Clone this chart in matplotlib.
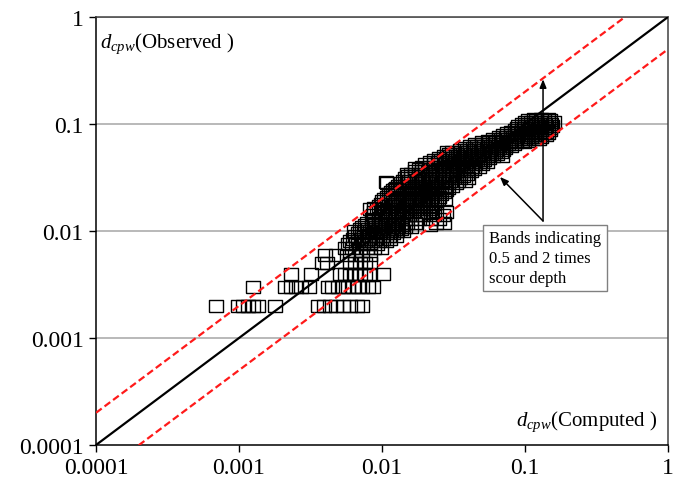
import matplotlib
matplotlib.use("Agg")
import matplotlib.pyplot as plt
import numpy as np

plt.rcParams['font.family'] = ['Liberation Serif', 'DejaVu Serif']
plt.rcParams['mathtext.fontset'] = 'custom'
plt.rcParams['mathtext.rm'] = 'Liberation Serif'
plt.rcParams['mathtext.it'] = 'Liberation Serif:italic'

# Observed values grouped by row, with the computed values in each row
obs_rows = [0.002, 0.003, 0.004, 0.005, 0.006, 0.007, 0.008, 0.009, 0.010,
            0.011, 0.012, 0.013, 0.015, 0.017, 0.019, 0.021, 0.023, 0.025,
            0.028, 0.031, 0.034, 0.038, 0.042, 0.046, 0.050, 0.055, 0.060,
            0.065, 0.070, 0.076, 0.082, 0.088, 0.095, 0.105, 0.112]
comp_rows = [
    [0.00069, 0.00098, 0.00107, 0.00115, 0.00125, 0.00135, 0.00179, 0.00356,
     0.0039, 0.0043, 0.0048, 0.0053, 0.0060, 0.0067, 0.0072],
    [0.00125, 0.0021, 0.0023, 0.0025, 0.0027, 0.0031, 0.0042, 0.0045, 0.0049,
     0.0053, 0.0058, 0.0063, 0.0068, 0.0073, 0.0080, 0.0087],
    [0.0023, 0.0032, 0.0051, 0.0055, 0.0060, 0.0065, 0.0070, 0.0076, 0.0082,
     0.0101],
    [0.0038, 0.0041, 0.0060, 0.0065, 0.0070, 0.0076, 0.0082],
    [0.0040, 0.0048, 0.0057, 0.0065, 0.0072, 0.0082],
    [0.0055, 0.0062, 0.0070, 0.0078, 0.0088, 0.0098],
    [0.0060, 0.0068, 0.0076, 0.0085, 0.0095, 0.0107],
    [0.0065, 0.0072, 0.0080, 0.0090, 0.0100, 0.0112, 0.0125],
    [0.0064, 0.0075, 0.0083, 0.0092, 0.0102, 0.0115, 0.0128, 0.0140],
    [0.0072, 0.0085, 0.0095, 0.0105, 0.0118, 0.0130, 0.0145, 0.0160],
    [0.0078, 0.0090, 0.0100, 0.0110, 0.0122, 0.0135, 0.0150, 0.0170,
     0.0240, 0.0270],
    [0.0085, 0.0095, 0.0105, 0.0115, 0.0130, 0.0145, 0.0160, 0.0180,
     0.0220, 0.0250],
    [0.0088, 0.0100, 0.0110, 0.0120, 0.0135, 0.0150, 0.0165, 0.0185,
     0.0210, 0.0240, 0.0280],
    [0.0095, 0.0105, 0.0118, 0.0130, 0.0145, 0.0160, 0.0180, 0.0200, 0.0220],
    [0.0100, 0.0112, 0.0125, 0.0140, 0.0155, 0.0170, 0.0190, 0.0210, 0.0240],
    [0.0108, 0.0120, 0.0135, 0.0150, 0.0165, 0.0180, 0.0200, 0.0225, 0.0250],
    [0.0115, 0.0130, 0.0145, 0.0160, 0.0175, 0.0195, 0.0215, 0.0240, 0.0270],
    [0.0125, 0.0140, 0.0155, 0.0170, 0.0190, 0.0210, 0.0230, 0.0260, 0.0290],
    [0.0108, 0.0135, 0.0150, 0.0170, 0.0190, 0.0210, 0.0235, 0.0260, 0.0290,
     0.0330],
    [0.0145, 0.0160, 0.0180, 0.0200, 0.0225, 0.0250, 0.0280, 0.0310, 0.0350,
     0.0400],
    [0.0160, 0.0180, 0.0200, 0.0220, 0.0250, 0.0280, 0.0310, 0.0350, 0.0390],
    [0.0180, 0.0200, 0.0220, 0.0250, 0.0280, 0.0310, 0.0350, 0.0390, 0.0440],
    [0.0200, 0.0230, 0.0260, 0.0290, 0.0320, 0.0360, 0.0400, 0.0450, 0.0500],
    [0.0230, 0.0260, 0.0290, 0.0330, 0.0370, 0.0410, 0.0460, 0.0520],
    [0.0270, 0.0300, 0.0340, 0.0380, 0.0430, 0.0480, 0.0540, 0.0600, 0.0690],
    [0.0284, 0.0310, 0.0350, 0.0400, 0.0450, 0.0500, 0.0560, 0.0620, 0.0680],
    [0.0380, 0.0430, 0.0480, 0.0540, 0.0600, 0.0660, 0.0730],
    [0.0450, 0.0500, 0.0560, 0.0620, 0.0690, 0.0760, 0.0840],
    [0.0550, 0.0620, 0.0700, 0.0780, 0.0860, 0.0950, 0.1050],
    [0.0660, 0.0740, 0.0830, 0.0920, 0.1000, 0.1100, 0.1200, 0.1300],
    [0.0750, 0.0850, 0.0950, 0.1050, 0.1150, 0.1250, 0.1350, 0.1450],
    [0.0850, 0.0950, 0.1050, 0.1150, 0.1250, 0.1350, 0.1500],
    [0.0900, 0.1000, 0.1100, 0.1200, 0.1300, 0.1400, 0.1550],
    [0.1000, 0.1100, 0.1200, 0.1300, 0.1450, 0.1600],
    [0.1150, 0.1300, 0.1450],
]

# Intermediate observed rows in the dense part of the cloud
obs_rows_b = [0.0075, 0.0085, 0.0095, 0.0105, 0.0115, 0.014, 0.016, 0.018,
              0.020, 0.022, 0.024, 0.0265, 0.0295, 0.0325, 0.036, 0.040,
              0.044, 0.048, 0.0525, 0.0575, 0.0625, 0.0675, 0.073, 0.079,
              0.085, 0.091, 0.100, 0.108]
comp_rows_b = [
    [0.0058, 0.0066, 0.0074, 0.0083, 0.0093],
    [0.0063, 0.0071, 0.0080, 0.0090, 0.0101, 0.0113],
    [0.0068, 0.0078, 0.0087, 0.0097, 0.0108, 0.0120],
    [0.0070, 0.0080, 0.0089, 0.0099, 0.0110, 0.0123, 0.0136],
    [0.0076, 0.0088, 0.0098, 0.0112, 0.0125, 0.0138, 0.0215],
    [0.0087, 0.0098, 0.0112, 0.0125, 0.0140, 0.0155, 0.0175, 0.0195, 0.0230,
     0.0265],
    [0.0092, 0.0102, 0.0114, 0.0126, 0.0140, 0.0155, 0.0172, 0.0192, 0.0215],
    [0.0098, 0.0108, 0.0121, 0.0135, 0.0150, 0.0165, 0.0185, 0.0205, 0.0230],
    [0.0104, 0.0116, 0.0130, 0.0145, 0.0160, 0.0175, 0.0195, 0.0215, 0.0245,
     0.0275],
    [0.0112, 0.0125, 0.0140, 0.0155, 0.0170, 0.0188, 0.0208, 0.0230, 0.0260],
    [0.0120, 0.0135, 0.0150, 0.0165, 0.0182, 0.0200, 0.0222, 0.0248, 0.0280],
    [0.0130, 0.0145, 0.0162, 0.0180, 0.0200, 0.0222, 0.0248, 0.0275, 0.0310],
    [0.0140, 0.0155, 0.0175, 0.0195, 0.0215, 0.0240, 0.0270, 0.0300, 0.0340,
     0.0380],
    [0.0152, 0.0170, 0.0190, 0.0210, 0.0235, 0.0265, 0.0295, 0.0330, 0.0370],
    [0.0170, 0.0190, 0.0210, 0.0235, 0.0265, 0.0295, 0.0330, 0.0370, 0.0420],
    [0.0190, 0.0215, 0.0240, 0.0270, 0.0300, 0.0340, 0.0380, 0.0425, 0.0475],
    [0.0215, 0.0245, 0.0275, 0.0310, 0.0345, 0.0385, 0.0430, 0.0485, 0.0540],
    [0.0250, 0.0280, 0.0315, 0.0355, 0.0400, 0.0450, 0.0500, 0.0560],
    [0.0295, 0.0330, 0.0370, 0.0420, 0.0470, 0.0520, 0.0580, 0.0640],
    [0.0350, 0.0390, 0.0450, 0.0510, 0.0570, 0.0630, 0.0700],
    [0.0410, 0.0460, 0.0520, 0.0580, 0.0650, 0.0720, 0.0800],
    [0.0500, 0.0560, 0.0630, 0.0700, 0.0780, 0.0870, 0.0980],
    [0.0600, 0.0680, 0.0760, 0.0850, 0.0950, 0.1050, 0.1150, 0.1250],
    [0.0700, 0.0800, 0.0900, 0.1000, 0.1100, 0.1200, 0.1300, 0.1400],
    [0.0800, 0.0900, 0.1000, 0.1100, 0.1200, 0.1300, 0.1400],
    [0.0880, 0.0980, 0.1080, 0.1180, 0.1280, 0.1380, 0.1500],
    [0.0950, 0.1050, 0.1150, 0.1250, 0.1380, 0.1520],
    [0.1050, 0.1200, 0.1350, 0.1500],
]

# Scattered points on the upper-left edge of the cloud
outlier_comp = [0.0107, 0.0149, 0.0169, 0.0088, 0.0082, 0.0124]
outlier_obs = [0.0286, 0.0340, 0.0390, 0.0164, 0.0159, 0.0245]

tick_vals = [0.0001, 0.001, 0.01, 0.1, 1]
tick_labels = ["0.0001", "0.001", "0.01", "0.1", "1"]
band_factors = [2.0, 0.5]

all_obs = obs_rows + obs_rows_b
all_comp = comp_rows + comp_rows_b
computed = np.concatenate([np.array(c) for c in all_comp] + [np.array(outlier_comp)])
observed = np.concatenate([np.full(len(c), o) for o, c in zip(all_obs, all_comp)]
                          + [np.array(outlier_obs)])

fig = plt.figure(figsize=(6.73, 4.85), dpi=100)
ax = fig.add_axes([96/673, 1-446/485, 572/673, 428/485])
ax.set_xscale('log')
ax.set_yscale('log')
ax.set_xlim(1e-4, 1)
ax.set_ylim(1e-4, 1)

# gridlines
for v in tick_vals[1:]:
    ax.axhline(v, color='#a6a6a6', lw=1.1, zorder=0)

# rectangular hollow marker
rect = [(-1.2, -1), (1.2, -1), (1.2, 1), (-1.2, 1), (-1.2, -1)]
ax.plot(computed, observed, linestyle='none', marker=rect, markersize=10.2,
        markerfacecolor='none', markeredgecolor='black', markeredgewidth=1.0,
        zorder=3)

line_x = np.array([1e-4, 1.0])
ax.plot(line_x, line_x, color='black', lw=1.6, zorder=4)
for f in band_factors:
    ax.plot(line_x, line_x * f, color='#ff1a1a', lw=1.6, ls=(0, (3.2, 1.6)),
            zorder=4)

ax.set_xticks(tick_vals)
ax.set_xticklabels(tick_labels)
ax.set_yticks(tick_vals)
ax.set_yticklabels(tick_labels)
ax.minorticks_off()
ax.tick_params(axis='both', direction='out', length=5, width=1.0,
               labelsize=17, colors='black')
ax.tick_params(axis='x', pad=4)
ax.tick_params(axis='y', pad=4)

for s in ['left', 'bottom']:
    ax.spines[s].set_color('black')
    ax.spines[s].set_linewidth(1.1)
for s in ['top', 'right']:
    ax.spines[s].set_color('#404040')
    ax.spines[s].set_linewidth(1.1)

ax.text(0.007, 0.939, r'$\mathit{d}_{\mathit{cpw}}$(Observed )', transform=ax.transAxes,
        fontsize=15, ha='left', va='center')
ax.text(0.981, 0.056, r'$\mathit{d}_{\mathit{cpw}}$(Computed )', transform=ax.transAxes,
        fontsize=15, ha='right', va='center')

start = (0.1337, 0.0124)
for tgt in [(0.1337, 0.262), (0.0668, 0.032)]:
    ax.annotate('', xy=tgt, xytext=start,
                arrowprops=dict(arrowstyle='-|>,head_length=0.5,head_width=0.2',
                                color='black', lw=1.1, shrinkA=0, shrinkB=0),
                zorder=5)

ax.text(0.138, 0.0056, "Bands indicating\n0.5 and 2 times\nscour depth",
        fontsize=12, ha='center', va='center', multialignment='left',
        linespacing=1.3, zorder=6,
        bbox=dict(boxstyle='square,pad=0.35', facecolor='white',
                  edgecolor='#808080', lw=1.0))

fig.savefig('out.png', dpi=100)
